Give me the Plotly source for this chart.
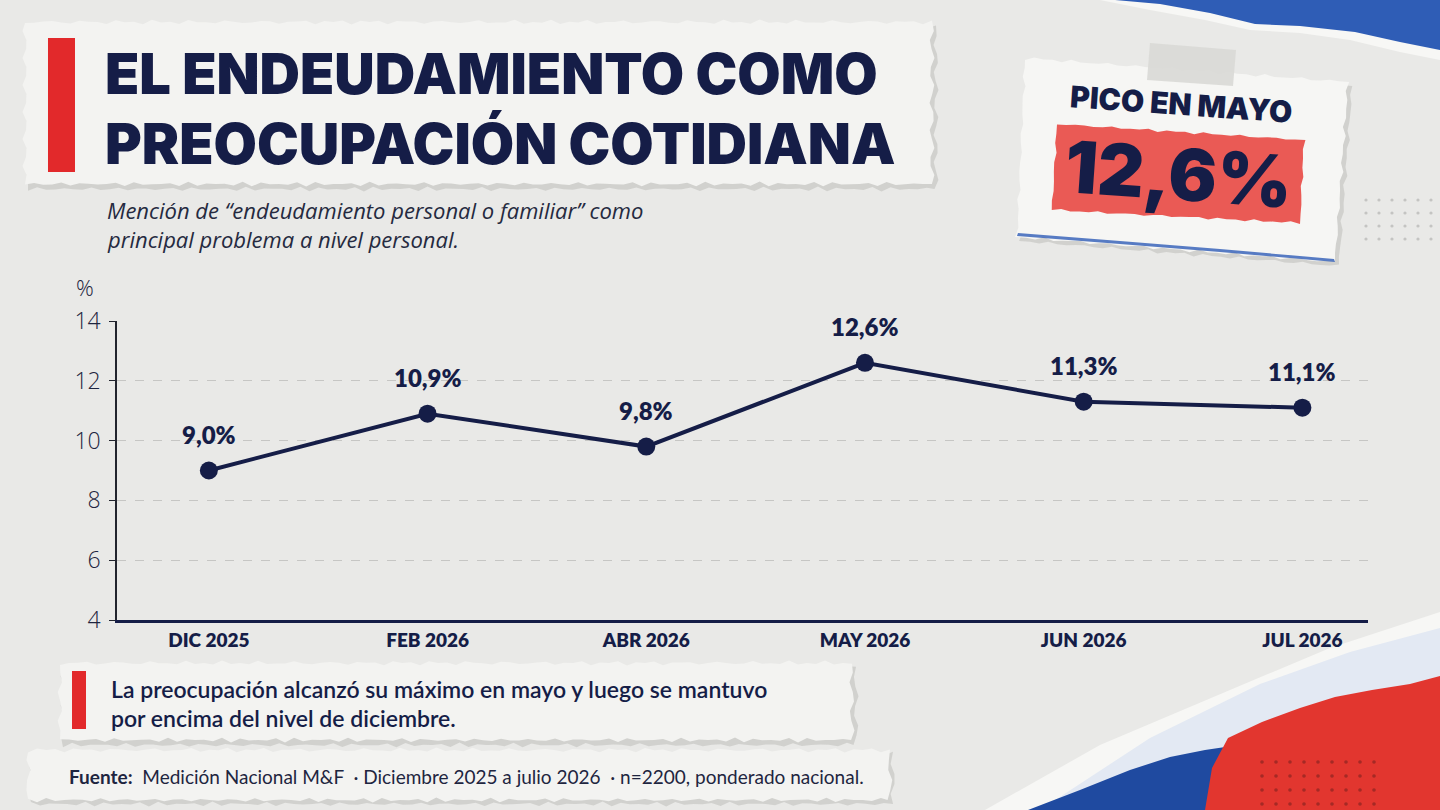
import math

import plotly.graph_objects as go

# ---------------------------------------------------------------------------
# Data
# ---------------------------------------------------------------------------
months = ["DIC 2025", "FEB 2026", "ABR 2026", "MAY 2026", "JUN 2026", "JUL 2026"]
share = [9.0, 10.9, 9.8, 12.6, 11.3, 11.1]
labels = ["9,0%", "10,9%", "9,8%", "12,6%", "11,3%", "11,1%"]
y_ticks = [4, 6, 8, 10, 12, 14]

NAVY = "#151d47"
RED = "#e2292b"
BG = "#e9e9e7"
PAPER = "#f3f3f1"

W, H = 1440, 810


def X(px):
    return px / W


def Y(py):
    return 1 - py / H


def torn_rect(x0, y0, x1, y1, amp=2.5, step=9, seed=0.0):
    """Closed SVG path of a rectangle with slightly ragged edges (paper coords)."""
    pts = []
    n = max(2, int((x1 - x0) / step))
    for i in range(n + 1):
        x = x0 + (x1 - x0) * i / n
        pts.append((x, y0 + amp * math.sin(i * 2.3 + seed) * math.cos(i * 0.7)))
    m = max(2, int((y1 - y0) / step))
    for i in range(1, m + 1):
        y = y0 + (y1 - y0) * i / m
        pts.append((x1 + amp * math.sin(i * 1.9 + seed), y))
    for i in range(1, n + 1):
        x = x1 - (x1 - x0) * i / n
        pts.append((x, y1 + amp * math.sin(i * 2.7 + seed) * math.cos(i * 0.5)))
    for i in range(1, m):
        y = y1 - (y1 - y0) * i / m
        pts.append((x0 + amp * math.sin(i * 2.1 + seed), y))
    return "M " + " L ".join(f"{X(a):.5f},{Y(b):.5f}" for a, b in pts) + " Z"


def poly(points):
    return "M " + " L ".join(f"{X(a):.5f},{Y(b):.5f}" for a, b in points) + " Z"


def quad(tl, tr, br, bl, amp=2.0, step=9, seed=0.0):
    """Ragged quadrilateral (for the slightly rotated card)."""
    pts = []
    edges = [(tl, tr), (tr, br), (br, bl), (bl, tl)]
    for e, (a, b) in enumerate(edges):
        length = math.hypot(b[0] - a[0], b[1] - a[1])
        n = max(2, int(length / step))
        for i in range(n):
            t = i / n
            x = a[0] + (b[0] - a[0]) * t
            y = a[1] + (b[1] - a[1]) * t
            j = amp * math.sin(i * 2.4 + seed + e) * math.cos(i * 0.6)
            if e in (0, 2):
                y += j
            else:
                x += j
            pts.append((x, y))
    return poly(pts)


shapes = []


def add(path, fill, opacity=1.0, layer="below"):
    shapes.append(dict(type="path", xref="paper", yref="paper", path=path,
                       fillcolor=fill, line=dict(width=0), opacity=opacity,
                       layer=layer))


def dots(x0, y0, cols, rows, gap, color, r=1.6, opacity=1.0):
    for i in range(cols):
        for j in range(rows):
            cx, cy = x0 + i * gap, y0 + j * gap
            shapes.append(dict(type="circle", xref="paper", yref="paper",
                               x0=X(cx - r), x1=X(cx + r), y0=Y(cy + r), y1=Y(cy - r),
                               fillcolor=color, line=dict(width=0), opacity=opacity,
                               layer="below"))


# decorative torn corners
add(poly([(1100, 0), (1440, 0), (1440, 60), (1400, 52), (1350, 40), (1300, 33),
          (1250, 30), (1205, 20), (1150, 10)]), "#f7f7f5")
add(poly([(1115, 0), (1440, 0), (1440, 50), (1400, 42), (1355, 32), (1300, 26),
          (1255, 24), (1210, 13), (1160, 4)]), "#2f5db6")
add(poly([(985, 810), (1100, 745), (1230, 690), (1330, 648), (1440, 612), (1440, 810)]),
    "#f7f7f5")
add(poly([(1040, 810), (1150, 738), (1260, 684), (1350, 652), (1440, 628), (1440, 810)]),
    "#e3e9f3")
add(poly([(1028, 810), (1080, 790), (1130, 770), (1170, 757), (1205, 750),
          (1232, 746), (1228, 810)]), "#1f4aa0")
add(poly([(1205, 810), (1212, 768), (1228, 738), (1262, 722), (1300, 708),
          (1335, 697), (1372, 690), (1410, 684), (1440, 676), (1440, 810)]), "#e2362f")
dots(1262, 762, 9, 4, 14, "#5a1a1a", r=1.8, opacity=0.45)
dots(1366, 200, 6, 4, 13, "#c4c4c2", r=1.6)

# title strip
add(torn_rect(28, 27, 936, 189, seed=1.0), "#b9b9b6", 0.5)
add(torn_rect(25, 22, 932, 184, seed=0.4), PAPER)
add(poly([(48, 38), (75, 38), (75, 172), (48, 172)]), RED)

# callout card with tape
add(quad((1029, 62), (1352, 86), (1339, 266), (1021, 241), seed=2.0), "#b9b9b6", 0.5)
add(quad((1025, 58), (1348, 82), (1335, 262), (1017, 237), seed=1.5), "#f6f6f4")
add(poly([(1017, 236), (1120, 244), (1220, 252), (1335, 262), (1334, 259),
          (1220, 249), (1120, 241), (1018, 233)]), "#2f5db6", 0.8)
add(quad((1057, 124), (1304, 140), (1300, 223), (1052, 210), amp=1.5, seed=0.3), "#ea5a55")
add(poly([(1150, 43), (1236, 50), (1233, 86), (1147, 80)]), "#d9d9d6", 0.9)

# note strip
add(torn_rect(63, 667, 856, 745, seed=2.2), "#b9b9b6", 0.5)
add(torn_rect(60, 663, 852, 740, seed=0.9), PAPER)
add(poly([(72, 671), (86, 671), (86, 729), (72, 729)]), RED)

# source strip
add(torn_rect(31, 754, 893, 804, seed=3.1), "#b9b9b6", 0.5)
add(torn_rect(28, 750, 890, 800, seed=1.7), PAPER)

# ---------------------------------------------------------------------------
# Figure
# ---------------------------------------------------------------------------
fig = go.Figure()
fig.add_trace(go.Scatter(
    x=months, y=share, mode="lines+markers",
    line=dict(color=NAVY, width=4),
    marker=dict(color=NAVY, size=18),
    hoverinfo="skip",
))

annotations = []
for m, v, lab in zip(months, share, labels):
    annotations.append(dict(
        x=m, y=v, xref="x", yref="y", text=lab, showarrow=False, yshift=36,
        font=dict(family="Lato", size=24, color=NAVY, weight=800),
    ))


def note(text, x, y, size, weight=400, color=NAVY, family="Lato", xanchor="left",
         yanchor="middle", angle=0, italic=False):
    annotations.append(dict(
        x=X(x), y=Y(y), xref="paper", yref="paper", text=text, showarrow=False,
        xanchor=xanchor, yanchor=yanchor, textangle=angle, align="left",
        borderpad=0,
        font=dict(family=family, size=size, color=color, weight=weight,
                  style="italic" if italic else "normal"),
    ))


# the two title lines sit close together, as in the original lock-up
note("EL ENDEUDAMIENTO COMO", 104, 109, 56, weight=900, family="Inter",
     yanchor="bottom")
note("PREOCUPACIÓN COTIDIANA", 104, 109, 56, weight=900, family="Inter",
     yanchor="top")
note("Mención de “endeudamiento personal o familiar” como", 106, 210, 22,
     color="#252a40", family="Open Sans", italic=True)
note("principal problema a nivel personal.", 106, 239, 22,
     color="#252a40", family="Open Sans", italic=True)
note("PICO EN MAYO", 1181, 104, 30, weight=900, family="Inter", xanchor="center", angle=4)
note("12,6%", 1178, 174, 72, weight=900, family="Inter", xanchor="center", angle=4)
note("%", 85, 287, 22, weight=300, color="#1e2540", family="Open Sans", xanchor="center")
note("La preocupación alcanzó su máximo en mayo y luego se mantuvo", 110, 689, 23,
     weight=600)
note("por encima del nivel de diciembre.", 110, 718, 23, weight=600)
note("<b>Fuente:</b>  Medición Nacional M&F  · Diciembre 2025 a julio 2026  · "
     "n=2200, ponderado nacional.", 68, 776, 19, weight=400, color="#1e2540")

fig.update_layout(
    width=W, height=H,
    paper_bgcolor=BG, plot_bgcolor="rgba(0,0,0,0)",
    margin=dict(l=0, r=0, t=0, b=0, autoexpand=False),
    showlegend=False,
    shapes=shapes,
    annotations=annotations,
    xaxis=dict(
        domain=[X(117), X(1368)], automargin=False,
        type="category", range=[-0.42, 5.3],
        showgrid=False, zeroline=False,
        showline=True, linecolor=NAVY, linewidth=2.5,
        ticks="", ticklabelstandoff=1,
        tickfont=dict(family="Lato", size=19, color=NAVY, weight=800),
    ),
    yaxis=dict(
        domain=[Y(620), Y(321)], automargin=False,
        range=[4, 14], tickvals=y_ticks,
        showgrid=True, gridcolor="#c6c6c4", griddash="dash", gridwidth=1,
        zeroline=False,
        showline=True, linecolor="#22242e", linewidth=1.5,
        ticks="outside", ticklen=6, tickcolor="#22242e", ticklabelstandoff=4,
        tickfont=dict(family="Open Sans", size=23, color="#1e2540", weight=300),
    ),
)

fig.write_html("out.html", config={"displayModeBar": False},
               post_script="document.body.style.margin='0';")
